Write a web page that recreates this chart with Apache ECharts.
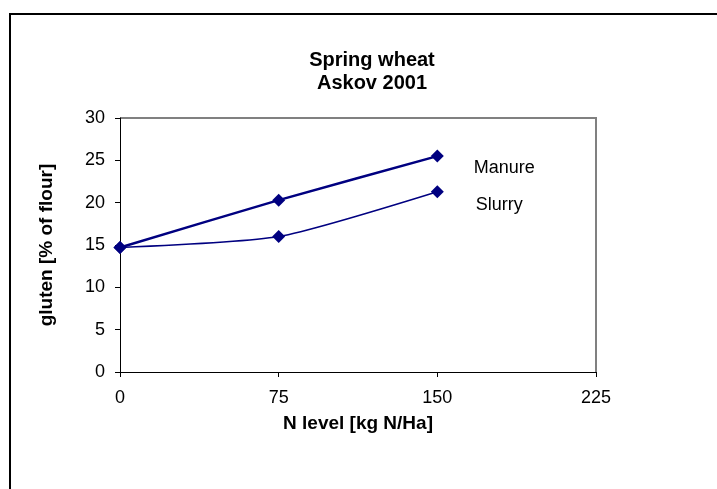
<!DOCTYPE html>
<html>
<head>
<meta charset="utf-8">
<script src="https://cdn.jsdelivr.net/npm/echarts@6/dist/echarts.min.js"></script>
<style>
  html, body { margin: 0; padding: 0; background: #fff; }
  #chart { width: 717px; height: 489px; }
</style>
</head>
<body>
<div id="chart"></div>
<script>
// N level (kg N/Ha) and gluten (% of flour)
const nLevels = [0, 75, 150];
const manure = [14.7, 20.3, 25.5];
const slurry = [14.7, 16.0, 21.3];
const seriesNames = ['Manure', 'Slurry'];

const chart = echarts.init(document.getElementById('chart'));

const pairs = (vals) => vals.map((v, i) => [nLevels[i], v]);

// name label next to the last point
const endLabel = (name, dx, dy) => ({
  show: true,
  position: 'inside',
  offset: [dx, dy],
  formatter: (p) => (p.dataIndex === nLevels.length - 1 ? name : ''),
  color: '#000',
  fontFamily: 'Liberation Sans, Arial',
  fontSize: 18,
  align: 'center',
  verticalAlign: 'middle'
});

const option = {
  backgroundColor: '#fff',
  animation: false,
  title: {
    text: 'Spring wheat\nAskov 2001',
    left: 367,
    top: 44,
    textAlign: 'center',
    textStyle: {
      fontFamily: 'Liberation Sans, Arial',
      fontWeight: 'bold',
      fontSize: 20,
      lineHeight: 23,
      color: '#000'
    }
  },
  grid: { left: 120, top: 118, right: 121, bottom: 117 },
  xAxis: {
    type: 'value',
    min: 0,
    max: 225,
    interval: 75,
    name: 'N level [kg N/Ha]',
    nameLocation: 'middle',
    nameGap: 42,
    nameTextStyle: {
      fontFamily: 'Liberation Sans, Arial',
      fontWeight: 'bold',
      fontSize: 19,
      color: '#000'
    },
    axisLine: { lineStyle: { color: '#000', width: 1 } },
    axisTick: { show: true, inside: false, length: 5, lineStyle: { color: '#000' } },
    axisLabel: {
      margin: 17,
      color: '#000',
      fontFamily: 'Liberation Sans, Arial',
      fontSize: 18
    },
    splitLine: { show: false }
  },
  yAxis: {
    type: 'value',
    min: 0,
    max: 30,
    interval: 5,
    name: 'gluten [% of flour]',
    nameLocation: 'middle',
    nameGap: 64,
    nameTextStyle: {
      fontFamily: 'Liberation Sans, Arial',
      fontWeight: 'bold',
      fontSize: 19,
      color: '#000'
    },
    axisLine: { show: true, lineStyle: { color: '#000', width: 1 } },
    axisTick: { show: true, inside: false, length: 5, lineStyle: { color: '#000' } },
    axisLabel: {
      margin: 15,
      color: '#000',
      fontFamily: 'Liberation Sans, Arial',
      fontSize: 18
    },
    splitLine: { show: false }
  },
  graphic: [
    // plot area frame (top and right, grey)
    { type: 'polyline', shape: { points: [[120, 118], [596, 118], [596, 372]] },
      style: { stroke: '#808080', lineWidth: 2, fill: null }, z: 0 },
    // outer chart border
    { type: 'polyline', shape: { points: [[10, 489], [10, 14], [717, 14]] },
      style: { stroke: '#000', lineWidth: 2, fill: null }, z: 0 }
  ],
  series: [
    {
      name: seriesNames[0],
      type: 'line',
      data: pairs(manure),
      smooth: 0.2,
      symbol: 'diamond',
      symbolSize: 13,
      itemStyle: { color: '#000080' },
      lineStyle: { color: '#000080', width: 2.5 },
      label: endLabel(seriesNames[0], 67, 12)
    },
    {
      name: seriesNames[1],
      type: 'line',
      data: pairs(slurry),
      smooth: 0.2,
      symbol: 'diamond',
      symbolSize: 13,
      itemStyle: { color: '#000080' },
      lineStyle: { color: '#000080', width: 1.5 },
      label: endLabel(seriesNames[1], 62, 13)
    }
  ]
};

chart.setOption(option);
</script>
</body>
</html>
